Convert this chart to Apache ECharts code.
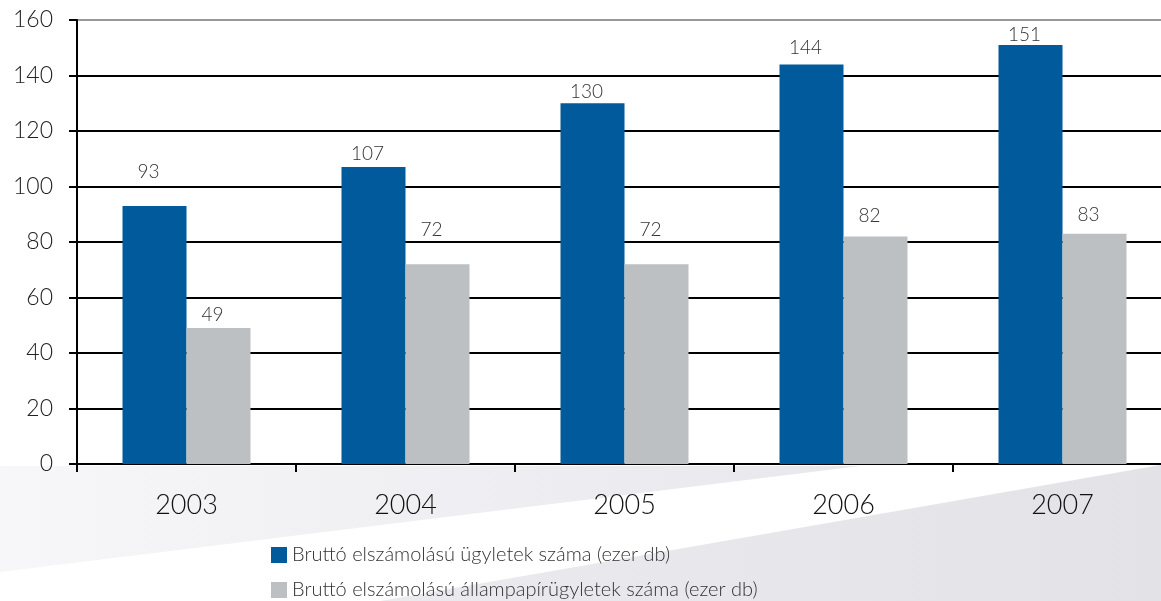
<!DOCTYPE html>
<html>
<head>
<meta charset="utf-8">
<script src="https://cdn.jsdelivr.net/npm/echarts@6/dist/echarts.min.js"></script>
<style>html,body{margin:0;padding:0;background:#fff;overflow:hidden;}#c{width:1172px;height:601px;}</style>
</head>
<body>
<div id="c"></div>
<script>
const categories = ['2003', '2004', '2005', '2006', '2007'];
const grossDeals = [93, 107, 130, 144, 151];
const govSecDeals = [49, 72, 72, 82, 83];
const seriesNames = [
  'Bruttó elszámolású ügyletek száma (ezer db)',
  'Bruttó elszámolású állampapírügyletek száma (ezer db)'
];
const yTicks = { min: 0, max: 160, interval: 20 };

// label lift (styling only)
const liftBlue = [25, 4, 2, 7, 1];
const liftGrey = [4, 25, 25, 11, 9];

const FONT = 'Lato';
const chart = echarts.init(document.getElementById('c'));

function mk(vals, lifts) {
  return vals.map((v, i) => ({ value: v, label: { distance: lifts[i] } }));
}

const legendText = { fontFamily: FONT, fontSize: 20, color: '#333', fontWeight: 300 };

chart.setOption({
  animation: false,
  textStyle: { fontFamily: FONT },
  graphic: [
    {
      type: 'polygon', silent: true, z: -10,
      shape: { points: [[0, 466], [860, 466], [0, 572]] },
      style: { fill: { type: 'linear', x: 0, y: 0, x2: 1, y2: 0,
        colorStops: [{ offset: 0, color: '#f7f7f9' }, { offset: 1, color: '#e8e7ec' }] } }
    },
    {
      type: 'polygon', silent: true, z: -10,
      shape: { points: [[380, 601], [1172, 463], [1172, 601]] },
      style: { fill: { type: 'linear', x: 0, y: 0, x2: 1, y2: 0,
        colorStops: [{ offset: 0, color: '#ebeaee' }, { offset: 1, color: '#e3e2e7' }] } }
    }
  ],
  grid: { left: 77, top: 20, right: 0, bottom: 137, containLabel: false },
  legend: [
    {
      left: 266, top: 540, icon: 'rect', itemWidth: 16, itemHeight: 16, itemGap: 8,
      textStyle: legendText, data: [seriesNames[0]]
    },
    {
      left: 266, top: 575, icon: 'rect', itemWidth: 16, itemHeight: 16, itemGap: 8,
      textStyle: legendText, data: [seriesNames[1]]
    }
  ],
  xAxis: {
    type: 'category', data: categories,
    axisLine: { lineStyle: { color: '#000', width: 2 } },
    axisTick: { show: true, length: 8, lineStyle: { color: '#000', width: 2 } },
    axisLabel: { margin: 28, fontSize: 27, color: '#111', fontFamily: FONT, fontWeight: 300 }
  },
  yAxis: {
    type: 'value', min: yTicks.min, max: yTicks.max, interval: yTicks.interval,
    axisLine: { show: true, lineStyle: { color: '#000', width: 2 } },
    axisTick: { show: true, length: 8, lineStyle: { color: '#000', width: 2 } },
    axisLabel: { margin: 24, fontSize: 23, color: '#222', fontFamily: FONT, fontWeight: 300 },
    splitLine: { lineStyle: { width: 2, color: ['#000', '#000', '#000', '#000', '#000', '#000', '#000', '#000', '#999'] } }
  },
  series: [
    {
      name: seriesNames[0], type: 'bar', data: mk(grossDeals, liftBlue),
      barWidth: 64, barGap: '0%',
      itemStyle: { color: '#005a9c' },
      label: { show: true, position: 'top', offset: [-6, 0], fontSize: 19, color: '#333', fontFamily: FONT, fontWeight: 300 }
    },
    {
      name: seriesNames[1], type: 'bar', data: mk(govSecDeals, liftGrey),
      barWidth: 64, barGap: '0%',
      itemStyle: { color: '#bdc0c3' },
      label: { show: true, position: 'top', offset: [-6, 0], fontSize: 19, color: '#333', fontFamily: FONT, fontWeight: 300 }
    }
  ]
});
</script>
</body>
</html>
